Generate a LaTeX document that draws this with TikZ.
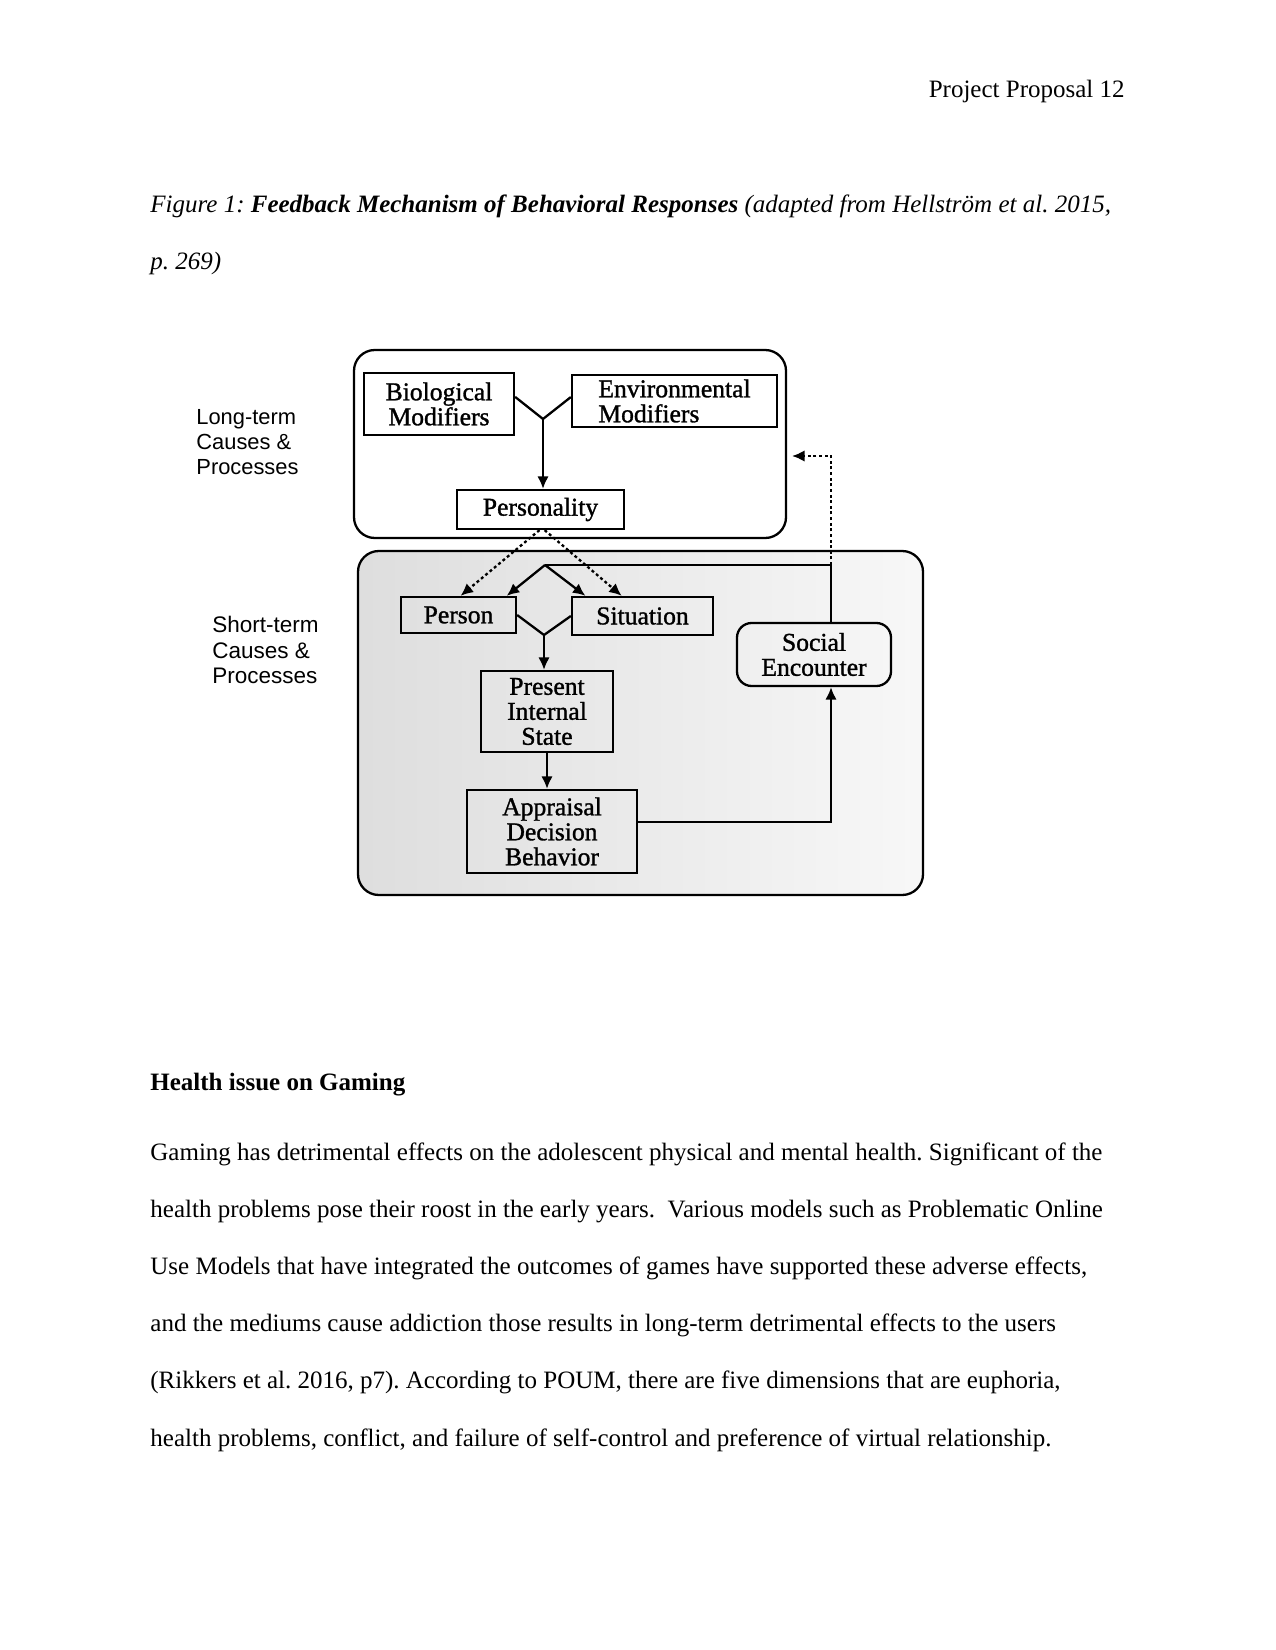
\documentclass[tikz,border=0pt]{standalone}
\usepackage{fontspec}
\setmainfont{Liberation Serif}
\newfontfamily\labelfont{Liberation Sans}
\newfontfamily\boxfont[FakeBold=1.2]{Liberation Serif}
\usetikzlibrary{arrows.meta, positioning}
\frenchspacing

\newcommand{\px}{0.48pt}

\begin{document}
\begin{tikzpicture}[x=0.48pt,y=-0.48pt,
  box/.style={draw, line width=1.1pt, inner sep=0pt, align=center,
    font=\boxfont\fontsize{12.3}{12}\selectfont},
  sz/.style 2 args={minimum width=#1*\px, minimum height=#2*\px},
  frame/.style={draw, line width=1.1pt, rounded corners=10pt, inner sep=0pt},
  link/.style={line width=1.1pt},
  arrow/.style={link, -{Latex[length=6pt,width=5.5pt]}},
  dots/.style={line width=1.1pt, dash pattern=on 1.4pt off 1.3pt,
    -{Latex[length=6pt,width=5.5pt]}},
  side/.style={anchor=west, align=left, inner sep=0pt,
    font=\labelfont\fontsize{10.5}{11.8}\selectfont},
  body/.style={anchor=base west, inner sep=0pt, font=\fontsize{12}{14}\selectfont}]
\useasboundingbox (0,0) rectangle (1275,1650);
\fill[white] (0,0) rectangle (1275,1650);

% page text
\node[body, anchor=base east] (header) at (1125,98) {Project Proposal 12};
\node[body] (cap1) at (150,213) {\textit{Figure 1: }\textbf{\textit{Feedback Mechanism of Behavioral Responses}}\textit{ (adapted from Hellström et al. 2015,}};
\node[body] (cap2) at (150,270) {\textit{p. 269)}};

% frames
\node[frame, sz={432}{188}] (longbox) at (570,444) {};
\node[frame, sz={565}{344}, left color=black!13, right color=black!3] (shortbox) at (640.5,723) {};
\node[side] (longlbl) at (196,442) {Long-term\\Causes \&\\Processes};
\node[side, font=\labelfont\fontsize{10.8}{12.2}\selectfont] (shortlbl) at (212,650) {Short-term\\Causes \&\\Processes};

% boxes
\node[box, sz={150}{62}] (bio) at (439,404) {Biological\\Modifiers};
\node[box, sz={205}{52}, align=left] (env) at (674.5,401) {Environmental\\Modifiers};
\node[box, sz={167}{39}] (pers) at (540.5,509.5) {Personality};
\node[box, sz={115}{36}] (person) at (458.5,615) {Person};
\node[box, sz={141}{38}] (sit) at (642.5,616) {Situation};
\node[box, sz={132}{81}] (state) at (547,711.5) {Present\\Internal\\State};
\node[box, sz={170}{83}] (act) at (552,831.5) {Appraisal\\Decision\\Behavior};
\node[box, sz={154}{63}, rounded corners=7pt] (social) at (814,654.5) {Social\\Encounter};

% connectors
\coordinate (yjoin) at (543,419);
\draw[link] ([yshift=3.4pt]bio.east) -- (yjoin) -- ([yshift=1.9pt]env.west);
\draw[arrow] (yjoin) -- (yjoin |- pers.north);
\draw[dots] ([xshift=-0.5pt]pers.south) -- ([xshift=1pt]person.north);
\draw[dots] ([xshift=2pt]pers.south) -- ([xshift=-10pt]sit.north);
\coordinate (apex) at (545,565);
\coordinate (fbtop) at (831,565);
\draw[arrow] (apex) -- ([xshift=-5pt]person.north east);
\draw[arrow] (apex) -- ([xshift=7pt]sit.north west);
\draw[link] (apex) -- (fbtop) -- (fbtop |- social.north);
\coordinate (vjoin) at (544,635);
\draw[link] (person.east) -- (vjoin) -- (sit.west);
\draw[arrow] (vjoin) -- (vjoin |- state.north);
\draw[arrow] (state.south) -- (state.south |- act.north);
\coordinate (fbbot) at (831,822);
\draw[arrow] (act.east |- fbbot) -- (fbbot) -- (fbbot |- social.south);
\coordinate (fbend) at (831,456);
\coordinate (fbtip) at (792,456);
\draw[dots] (fbtop) -- (fbend) -- (fbtip);

% section text
\node[body, font=\fontsize{12}{14}\selectfont\bfseries] (heading) at (150,1090) {Health issue on Gaming};
\foreach \n/\txt in {
    0/{Gaming has detrimental effects on the adolescent physical and mental health. Significant of the},
    1/{health problems pose their roost in the early years.~ Various models such as Problematic Online},
    2/{Use Models that have integrated the outcomes of games have supported these adverse effects,},
    3/{and the mediums cause addiction those results in long-term detrimental effects to the users},
    4/{(Rikkers et al. 2016, p7). According to POUM, there are five dimensions that are euphoria,},
    5/{health problems, conflict, and failure of self-control and preference of virtual relationship.}}{
    \node[body] (line\n) at (150,1160+57.2*\n) {\txt};
}
\end{tikzpicture}
\end{document}
